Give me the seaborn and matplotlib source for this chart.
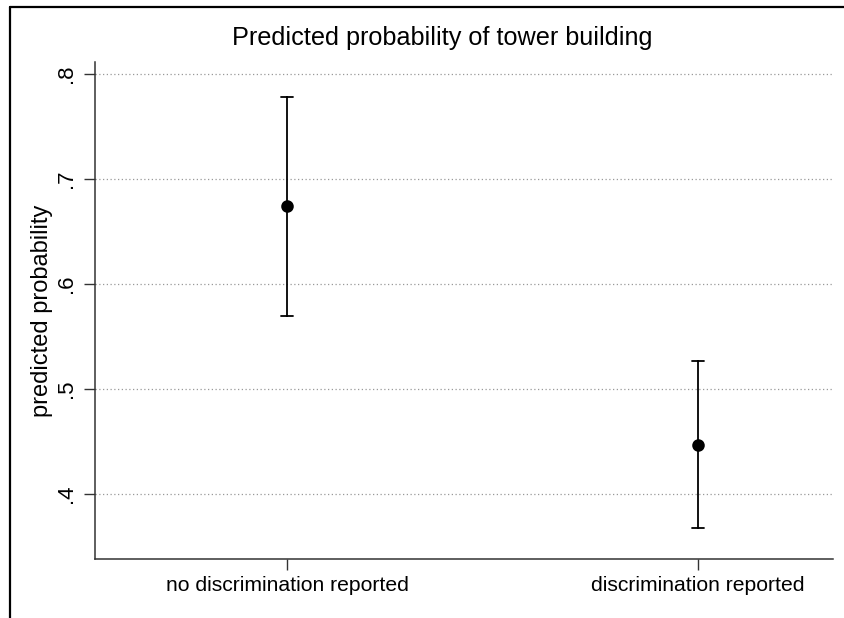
import matplotlib
matplotlib.use("Agg")
import matplotlib.pyplot as plt
import seaborn as sns
import pandas as pd
import numpy as np
from matplotlib.lines import Line2D

categories = ["no discrimination reported", "discrimination reported"]
estimates = [0.674, 0.447]
ci_low = [0.569, 0.368]
ci_high = [0.778, 0.527]
yticks = [0.4, 0.5, 0.6, 0.7, 0.8]
yticklabels = [".4", ".5", ".6", ".7", ".8"]

rows = []
for c, e, lo, hi in zip(categories, estimates, ci_low, ci_high):
    for v in (lo, e, hi):
        rows.append({"group": c, "p": v})
df = pd.DataFrame(rows)

sns.set_style("white")
plt.rcParams["font.family"] = ["Liberation Sans", "DejaVu Sans"]
plt.rcParams["text.color"] = "black"
plt.rcParams["axes.labelcolor"] = "black"
plt.rcParams["xtick.color"] = "black"
plt.rcParams["ytick.color"] = "black"

fig = plt.figure(figsize=(8.44, 6.18), dpi=100)
ax = fig.add_axes([95/844, 1-559/618, (833-95)/844, (559-62)/618])

sns.pointplot(data=df, x="group", y="p", order=categories,
              estimator="median", errorbar=lambda x: (x.min(), x.max()),
              linestyle="none", color="black", markers="o", markersize=7,
              capsize=0.03, err_kws={"linewidth": 1.3, "color": "black"}, ax=ax)

ax.set_xlim(-0.467, 1.328)
ax.set_ylim(0.338, 0.8114)
ax.set_yticks(yticks)
ax.set_yticklabels(yticklabels, rotation=90, va="center", fontsize=16)
ax.tick_params(axis="x", labelsize=15.2, length=8, width=1, color="#333333",
               labelcolor="black", direction="out", pad=4.5, bottom=True)
ax.tick_params(axis="y", length=8, width=1, color="#333333", labelcolor="black",
               direction="out", pad=5, left=True)
for t in ax.get_yticklabels():
    t.set_va("center")
ax.grid(axis="y", linestyle=(0, (1, 2)), color="#999999", linewidth=0.9)
ax.grid(axis="x", visible=False)
ax.set_axisbelow(True)
for s in ["top", "right"]:
    ax.spines[s].set_visible(False)
for s in ["left", "bottom"]:
    ax.spines[s].set_color("#333333")
    ax.spines[s].set_linewidth(1.1)
ax.set_xlabel("")
ax.set_ylabel("predicted probability", fontsize=17, color="black")
ax.yaxis.label.set_va("center")
ax.yaxis.set_label_coords((42 - 95) / 738, 0.5)

fig.text(442/844, 1-38/618, "Predicted probability of tower building",
         ha="center", va="center", fontsize=18.2, color="black")

fig.add_artist(Line2D([10/844, 10/844], [0, 1-7/618], transform=fig.transFigure,
                      color="black", linewidth=1.6))
fig.add_artist(Line2D([10/844, 1], [1-7/618, 1-7/618], transform=fig.transFigure,
                      color="black", linewidth=1.6))

fig.savefig("out.png", dpi=100, facecolor="white")
